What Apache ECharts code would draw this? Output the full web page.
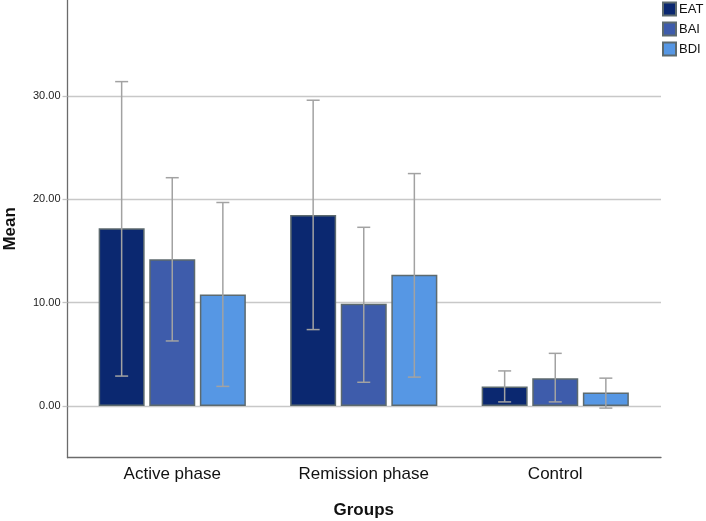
<!DOCTYPE html>
<html>
<head>
<meta charset="utf-8">
<script src="https://cdn.jsdelivr.net/npm/echarts@6/dist/echarts.min.js"></script>
<style>
html,body{margin:0;padding:0;background:#fff;}
#chart{width:706px;height:521px;}
</style>
</head>
<body>
<div id="chart"></div>
<script>
var categories = ['Active phase', 'Remission phase', 'Control'];
var seriesNames = ['EAT', 'BAI', 'BDI'];
var eatMean = [17.2, 18.5, 1.9];
var baiMean = [14.2, 9.9, 2.7];
var bdiMean = [10.8, 12.7, 1.3];
var eatLow = [2.9, 7.4, 0.4];
var eatHigh = [31.4, 29.6, 3.4];
var baiLow = [6.3, 2.3, 0.4];
var baiHigh = [22.1, 17.3, 5.1];
var bdiLow = [1.9, 2.8, -0.2];
var bdiHigh = [19.7, 22.5, 2.7];
var yTicks = [0, 10, 20, 30];
var yMin = -5;
var yMax = 39.3;

var colors = ['#0b2870', '#3e5cab', '#5697e4'];
var FONT = '"Liberation Sans", Arial, sans-serif';
var BAR_W = 46;
var BAR_GAP = 0.1;
var step = BAR_W * (1 + BAR_GAP);

function errSeries(idx, lows, highs) {
  var data = lows.map(function (l, i) { return [i, l, highs[i]]; });
  return {
    type: 'custom',
    xAxisIndex: 1,
    yAxisIndex: 1,
    z: 5,
    silent: true,
    encode: { x: 0, y: [1, 2] },
    data: data,
    renderItem: function (params, api) {
      var c = api.value(0);
      var top = api.coord([c, api.value(2)]);
      var bot = api.coord([c, api.value(1)]);
      var x = top[0] + (idx - 1) * step;
      var hw = 6.5;
      var st = { stroke: '#a2a2a2', lineWidth: 1.5 };
      return {
        type: 'group',
        children: [
          { type: 'line', shape: { x1: x, y1: top[1], x2: x, y2: bot[1] }, style: st },
          { type: 'line', shape: { x1: x - hw, y1: top[1], x2: x + hw, y2: top[1] }, style: st },
          { type: 'line', shape: { x1: x - hw, y1: bot[1], x2: x + hw, y2: bot[1] }, style: st }
        ]
      };
    }
  };
}

function barSeries(idx, values) {
  return {
    name: seriesNames[idx],
    type: 'bar',
    xAxisIndex: 1,
    yAxisIndex: 1,
    barWidth: BAR_W,
    barGap: (BAR_GAP * 100) + '%',
    data: values,
    itemStyle: { color: colors[idx], borderColor: '#5d6a6e', borderWidth: 1.5 },
    emphasis: { disabled: true }
  };
}

var chart = echarts.init(document.getElementById('chart'), null, { renderer: 'canvas' });
chart.setOption({
  animation: false,
  backgroundColor: '#ffffff',
  textStyle: { fontFamily: FONT },
  legend: {
    orient: 'vertical',
    left: 662,
    top: 1.5,
    padding: 0,
    itemWidth: 13,
    itemHeight: 13,
    itemGap: 5,
    icon: 'rect',
    textStyle: { fontSize: 13, color: '#111', fontFamily: FONT, padding: [0, 0, 0, -2] },
    data: seriesNames
  },
  grid: [
    { left: 67.5, right: 45, top: 0, bottom: 63.3, containLabel: false, outerBoundsMode: 'none' },
    { left: 76.5, right: 55, top: 0, bottom: 63.3, containLabel: false, outerBoundsMode: 'none' }
  ],
  xAxis: [
    {
      type: 'category', gridIndex: 0, data: categories,
      axisLine: { onZero: false, lineStyle: { color: '#6b6b6b', width: 1.3 } },
      axisTick: { show: false }, axisLabel: { show: false }, splitLine: { show: false }
    },
    {
      type: 'category', gridIndex: 1, data: categories,
      axisLine: { show: false, onZero: false }, axisTick: { show: false },
      axisLabel: { fontSize: 17, color: '#111', margin: 8, fontFamily: FONT },
      name: 'Groups', nameLocation: 'middle', nameGap: 44,
      nameTextStyle: { fontSize: 17, fontWeight: 'bold', color: '#111', fontFamily: FONT }
    }
  ],
  yAxis: [
    {
      type: 'value', gridIndex: 0, min: yMin, max: yMax,
      axisLine: { show: true, lineStyle: { color: '#6b6b6b', width: 1.3 } },
      axisTick: { show: true, customValues: yTicks, length: 5, lineStyle: { color: '#c4c4c4', width: 1.3 } },
      axisLabel: { customValues: yTicks, fontSize: 11, color: '#222', margin: 7, fontFamily: FONT,
        formatter: function (v) { return v.toFixed(2); } },
      splitLine: { show: true, lineStyle: { color: '#c8c8c8', width: 1.3 } },
      name: 'Mean', nameLocation: 'middle', nameGap: 49, nameRotate: 90,
      nameTextStyle: { fontSize: 17, fontWeight: 'bold', color: '#111', fontFamily: FONT }
    },
    {
      type: 'value', gridIndex: 1, min: yMin, max: yMax, show: false,
      splitLine: { show: false }
    }
  ],
  series: [
    barSeries(0, eatMean),
    barSeries(1, baiMean),
    barSeries(2, bdiMean),
    errSeries(0, eatLow, eatHigh),
    errSeries(1, baiLow, baiHigh),
    errSeries(2, bdiLow, bdiHigh)
  ]
});
</script>
</body>
</html>
